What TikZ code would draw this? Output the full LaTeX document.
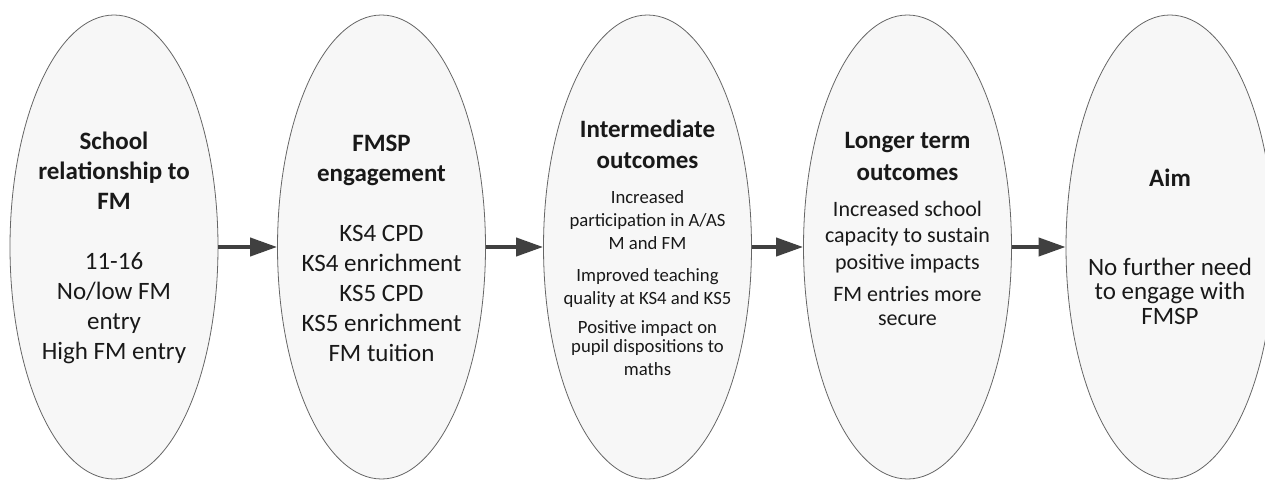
\documentclass[tikz,border=0pt]{standalone}
\usepackage{fontspec}
\setmainfont{Carlito}
\usetikzlibrary{shapes.geometric,arrows.meta}
\newcommand{\hd}[1]{{\fontsize{25}{30}\selectfont\bfseries #1}}

\begin{document}
\begin{tikzpicture}[x=1pt,y=1pt,
    stage/.style={ellipse, draw=black!60, line width=0.8pt, minimum width=208pt,
      minimum height=464pt, inner sep=0pt, fill=black!3},
    words/.style={align=center, text=black!90, inner sep=0pt, font=\fontsize{25}{30}\selectfont},
    flow/.style={-{Triangle[length=27pt,width=18pt]}, line width=4pt, draw=black!75}]
  \useasboundingbox (0,0) rectangle (1265,480);

  % the five stages
  \node [stage] (s1) at (114,233) {};
  \node [stage] (s2) at (381.5,233) {};
  \node [stage] (s3) at (647.5,233) {};
  \node [stage] (s4) at (907.5,233) {};
  \node [stage] (s5) at (1170,233) {};

  \node [words] (t1) at (114,232) {\hd{School}\\ \hd{relationship to}\\ \hd{FM}\\[30pt]
    11-16\\ No/low FM\\ entry\\ High FM entry};
  \node [words] (t2) at (381.5,232) {\hd{FMSP}\\ \hd{engagement}\\[30pt]
    KS4 CPD\\ KS4 enrichment\\ KS5 CPD\\ KS5 enrichment\\ FM tuition};
  \node [words, font=\fontsize{18.7}{23}\selectfont] (t3) at (647.5,232)
    {\hd{Intermediate}\\[8pt] \hd{outcomes}\\[12pt]
    Increased\\ participation in A/AS\\ M and FM\\[9pt]
    Improved teaching\\ quality at KS4 and KS5\\[6pt]
    Positive impact on\\[-4pt] pupil dispositions to\\ maths};
  \node [words, font=\fontsize{22}{26.5}\selectfont] (t4) at (907.5,251.5)
    {\hd{Longer term}\\[5.5pt] \hd{outcomes}\\[9.5pt]
    Increased school\\ capacity to sustain\\ positive impacts\\[5.5pt]
    FM entries more\\[-2.5pt] secure};
  \node [words, font=\fontsize{25}{24.5}\selectfont] (t5) at (1170,233.5)
    {\hd{Aim}\\[64.5pt] No further need\\ to engage with\\ FMSP};

  \draw [flow] (s1.east) -- (s2.west);
  \draw [flow] (s2.east) -- (s3.west);
  \draw [flow] (s3.east) -- (s4.west);
  \draw [flow] (s4.east) -- (s5.west);
\end{tikzpicture}
\end{document}
